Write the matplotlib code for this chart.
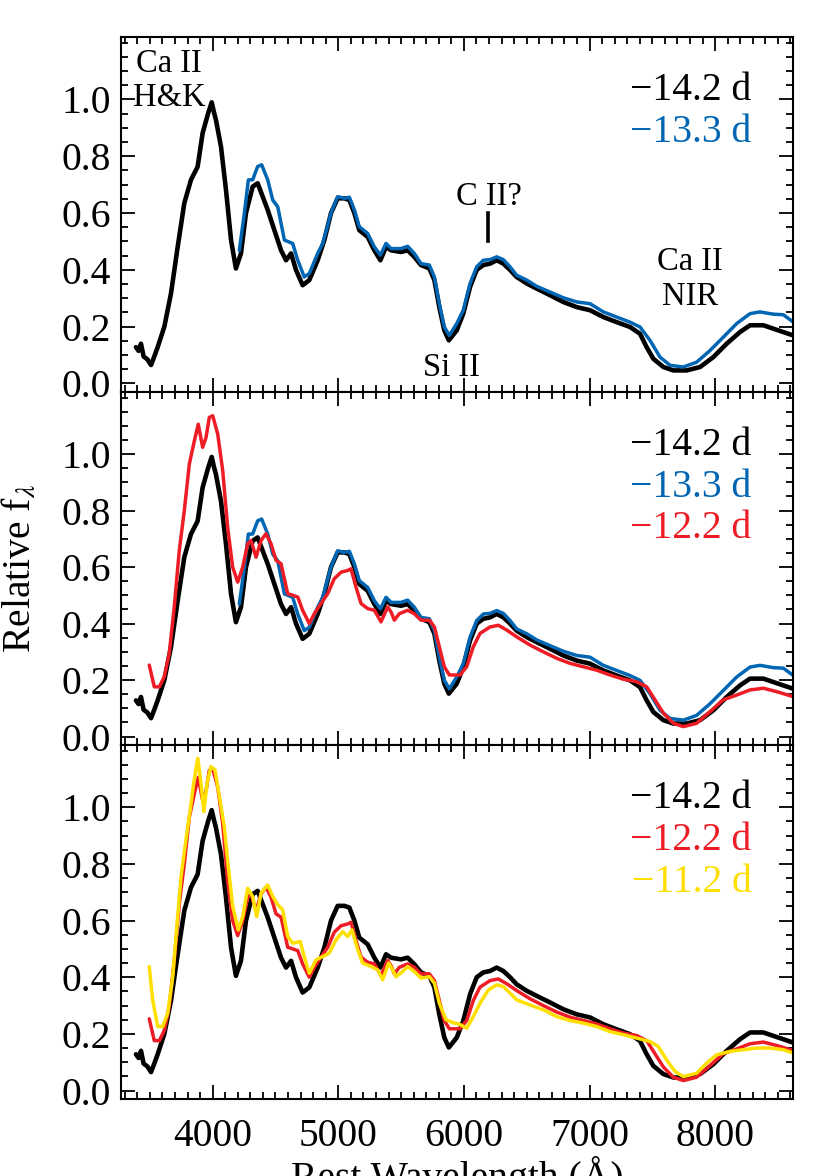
import numpy as np
import matplotlib
matplotlib.use('Agg')
import matplotlib.pyplot as plt

plt.rcParams['font.family'] = ['Liberation Serif', 'DejaVu Serif']
plt.rcParams['mathtext.fontset'] = 'stix'

# spectra (rest wavelength in A, relative flux)
wave_m142 = [3389, 3410, 3429, 3450, 3480, 3509, 3535, 3562, 3615, 3668, 3721, 3774, 3827,
             3880, 3920, 3965, 3992, 4010, 4026, 4066, 4106, 4146, 4185, 4225, 4265, 4318,
             4358, 4398, 4438, 4491, 4544, 4584, 4624, 4663, 4716, 4769, 4836, 4889, 4942,
             4995, 5048, 5088, 5128, 5167, 5234, 5287, 5335, 5380, 5420, 5499, 5552, 5605,
             5658, 5725, 5765, 5804, 5844, 5880, 5943, 5995, 6049, 6102, 6155, 6208, 6261,
             6314, 6367, 6420, 6500, 6580, 6685, 6791, 6898, 7004, 7110, 7216, 7322, 7402,
             7455, 7508, 7588, 7667, 7774, 7880, 7986, 8092, 8198, 8278, 8384, 8463, 8543, 8623]
flux_m142 = [0.128, 0.115, 0.140, 0.095, 0.085, 0.065, 0.095, 0.128, 0.200, 0.317, 0.480, 0.635, 0.717,
             0.763, 0.882, 0.953, 0.990, 0.955, 0.928, 0.834, 0.681, 0.505, 0.405, 0.458, 0.600, 0.693,
             0.705, 0.658, 0.611, 0.540, 0.469, 0.434, 0.458, 0.400, 0.346, 0.364, 0.434, 0.505, 0.600,
             0.652, 0.652, 0.646, 0.600, 0.540, 0.516, 0.469, 0.434, 0.481, 0.469, 0.463, 0.469, 0.446,
             0.417, 0.405, 0.364, 0.269, 0.187, 0.152, 0.187, 0.246, 0.340, 0.400, 0.417, 0.422, 0.434,
             0.422, 0.400, 0.375, 0.352, 0.334, 0.311, 0.287, 0.269, 0.258, 0.234, 0.216, 0.199, 0.175,
             0.128, 0.087, 0.058, 0.046, 0.046, 0.058, 0.093, 0.140, 0.181, 0.205, 0.205, 0.193, 0.181, 0.169]

wave_m133 = [4212, 4252, 4284, 4318, 4358, 4390, 4438, 4478, 4518, 4571, 4637, 4677, 4729,
             4769, 4836, 4876, 4942, 4995, 5048, 5088, 5128, 5167, 5234, 5287, 5335, 5380,
             5420, 5499, 5552, 5605, 5658, 5725, 5765, 5804, 5844, 5884, 5943, 5995, 6049,
             6102, 6155, 6208, 6261, 6314, 6367, 6420, 6500, 6580, 6685, 6791, 6898, 7004,
             7110, 7216, 7322, 7402, 7481, 7561, 7641, 7747, 7853, 7959, 8065, 8172, 8278,
             8357, 8463, 8543, 8623]
flux_m133 = [0.469, 0.599, 0.717, 0.717, 0.764, 0.770, 0.717, 0.646, 0.622, 0.505, 0.493, 0.434, 0.375,
             0.387, 0.458, 0.493, 0.600, 0.658, 0.652, 0.656, 0.611, 0.552, 0.528, 0.481, 0.452, 0.493,
             0.475, 0.475, 0.483, 0.458, 0.422, 0.417, 0.375, 0.281, 0.199, 0.169, 0.211, 0.258, 0.352,
             0.411, 0.434, 0.436, 0.446, 0.436, 0.411, 0.381, 0.364, 0.342, 0.322, 0.302, 0.287, 0.281,
             0.252, 0.234, 0.216, 0.199, 0.152, 0.093, 0.064, 0.058, 0.075, 0.116, 0.163, 0.211, 0.246,
             0.252, 0.244, 0.242, 0.216]

wave_m122 = [3495, 3535, 3575, 3615, 3654, 3694, 3734, 3774, 3814, 3854, 3885, 3920, 3947,
             3973, 4000, 4040, 4080, 4119, 4159, 4199, 4239, 4279, 4305, 4345, 4385, 4424,
             4464, 4504, 4544, 4597, 4677, 4716, 4769, 4809, 4862, 4916, 4968, 5022, 5075,
             5101, 5141, 5181, 5234, 5287, 5340, 5393, 5420, 5446, 5486, 5552, 5605, 5658,
             5725, 5765, 5804, 5844, 5884, 5969, 6022, 6075, 6128, 6208, 6274, 6341, 6420,
             6526, 6632, 6739, 6845, 6951, 7057, 7163, 7269, 7376, 7455, 7521, 7588, 7667,
             7747, 7853, 7959, 8065, 8172, 8278, 8384, 8490, 8623]
flux_m122 = [0.253, 0.176, 0.176, 0.212, 0.294, 0.459, 0.659, 0.800, 0.965, 1.047, 1.106, 1.024, 1.059,
             1.130, 1.136, 1.071, 0.941, 0.741, 0.600, 0.547, 0.600, 0.683, 0.694, 0.635, 0.694, 0.718,
             0.683, 0.624, 0.612, 0.506, 0.494, 0.447, 0.400, 0.435, 0.471, 0.506, 0.559, 0.582, 0.588,
             0.594, 0.529, 0.471, 0.453, 0.447, 0.406, 0.459, 0.441, 0.412, 0.435, 0.447, 0.435, 0.412,
             0.412, 0.388, 0.318, 0.247, 0.218, 0.218, 0.247, 0.318, 0.365, 0.388, 0.394, 0.377, 0.353,
             0.324, 0.300, 0.277, 0.259, 0.247, 0.235, 0.218, 0.203, 0.194, 0.176, 0.130, 0.083, 0.047,
             0.035, 0.047, 0.088, 0.130, 0.147, 0.165, 0.171, 0.159, 0.141]

wave_m112 = [3495, 3522, 3562, 3602, 3642, 3682, 3708, 3748, 3787, 3814, 3849, 3881, 3907,
             3929, 3955, 3986, 4018, 4053, 4092, 4124, 4159, 4204, 4239, 4279, 4318, 4350,
             4385, 4438, 4478, 4518, 4557, 4597, 4637, 4697, 4729, 4769, 4822, 4876, 4928,
             4982, 5035, 5075, 5109, 5155, 5194, 5260, 5314, 5353, 5401, 5433, 5459, 5512,
             5552, 5605, 5658, 5725, 5765, 5804, 5857, 5924, 5960, 6022, 6075, 6128, 6194,
             6261, 6314, 6381, 6420, 6526, 6632, 6739, 6845, 6951, 7057, 7163, 7269, 7376,
             7481, 7548, 7614, 7681, 7747, 7853, 7933, 8012, 8118, 8225, 8331, 8437, 8543, 8623]
flux_m112 = [0.438, 0.320, 0.226, 0.226, 0.273, 0.402, 0.544, 0.755, 0.885, 0.967, 1.085, 1.173, 1.085,
             0.985, 1.085, 1.144, 1.132, 1.038, 0.932, 0.791, 0.650, 0.567, 0.614, 0.714, 0.685, 0.614,
             0.697, 0.726, 0.685, 0.656, 0.638, 0.544, 0.520, 0.526, 0.473, 0.414, 0.461, 0.473, 0.485,
             0.532, 0.561, 0.544, 0.567, 0.497, 0.450, 0.438, 0.426, 0.391, 0.450, 0.426, 0.402, 0.420,
             0.438, 0.420, 0.397, 0.402, 0.379, 0.309, 0.250, 0.238, 0.235, 0.220, 0.261, 0.308, 0.355,
             0.373, 0.367, 0.338, 0.320, 0.302, 0.285, 0.261, 0.247, 0.238, 0.226, 0.208, 0.197, 0.185,
             0.173, 0.155, 0.108, 0.067, 0.049, 0.061, 0.097, 0.126, 0.138, 0.144, 0.150, 0.150, 0.144, 0.132]

spectra = {
    'm142': (wave_m142, flux_m142, 'black', u'\u221214.2 d'),
    'm133': (wave_m133, flux_m133, '#0066b3', u'\u221213.3 d'),
    'm122': (wave_m122, flux_m122, '#ee1c25', u'\u221212.2 d'),
    'm112': (wave_m112, flux_m112, '#ffdf00', u'\u221211.2 d'),
}
panels = [['m142', 'm133'], ['m142', 'm133', 'm122'], ['m142', 'm122', 'm112']]

W, H = 830, 1176
fig = plt.figure(figsize=(W / 100, H / 100), dpi=100)

left, right = 121, 793
edges = [37, 392, 745, 1099]
fs = 28.5
fs_ann = 23.5

axes = []
for i, keys in enumerate(panels):
    top, bot = edges[i], edges[i + 1]
    ax = fig.add_axes([left / W, 1 - bot / H, (right - left) / W, (bot - top) / H])
    for k in keys:
        w, f, c, lab = spectra[k]
        ax.plot(w, f, color=c, lw=3.3 if c == 'black' else 2.5,
                solid_joinstyle='round', solid_capstyle='round')
    ax.set_xlim(3270, 8620)
    ax.set_ylim(-0.03, 1.22)
    ax.set_xticks([4000, 5000, 6000, 7000, 8000])
    ax.set_xticks(np.arange(3300, 8700, 100), minor=True)
    ax.set_yticks([0.0, 0.2, 0.4, 0.6, 0.8, 1.0])
    ax.set_yticks(np.arange(0.0, 1.21, 0.05), minor=True)
    ax.set_yticklabels(['0.0', '0.2', '0.4', '0.6', '0.8', '1.0'])
    ax.tick_params(which='both', direction='in', top=True, right=True, width=1.3,
                   labelsize=fs)
    ax.tick_params(which='major', length=10)
    ax.tick_params(which='minor', length=5)
    ax.tick_params(axis='y', pad=7)
    ax.tick_params(axis='x', pad=14)
    if i < 2:
        ax.tick_params(axis='x', labelbottom=False)
    for s in ax.spines.values():
        s.set_linewidth(1.5)
    # legend text
    for j, k in enumerate(keys):
        ax.text(0.9385, 0.822 - 0.1185 * j, spectra[k][3], color=spectra[k][2],
                transform=ax.transAxes, ha='right', va='baseline', fontsize=fs)
    axes.append(ax)

ax = axes[0]
ax.text(3652, 1.098, 'Ca II', ha='center', va='baseline', fontsize=fs_ann)
ax.text(3652, 0.978, 'H&K', ha='center', va='baseline', fontsize=fs_ann)
ax.text(6200, 0.628, 'C II?', ha='center', va='baseline', fontsize=fs_ann)
ax.plot([6190, 6190], [0.50, 0.60], color='black', lw=2.6)
ax.text(5903, 0.028, 'Si II', ha='center', va='baseline', fontsize=fs_ann)
ax.text(7801, 0.399, 'Ca II', ha='center', va='baseline', fontsize=fs_ann)
ax.text(7801, 0.275, 'NIR', ha='center', va='baseline', fontsize=fs_ann)

fig.text(0.024, 1 - 568 / H, 'Relative f$_\\lambda$', rotation=90, ha='center', va='center',
         fontsize=fs)
# x label sits partly below the bottom edge, as in the original figure
fig.text((left + right) / 2 / W, 1 - 1189 / H, u'Rest Wavelength (\u00c5)', ha='center',
         va='baseline', fontsize=fs)

fig.savefig('out.png', dpi=100)
